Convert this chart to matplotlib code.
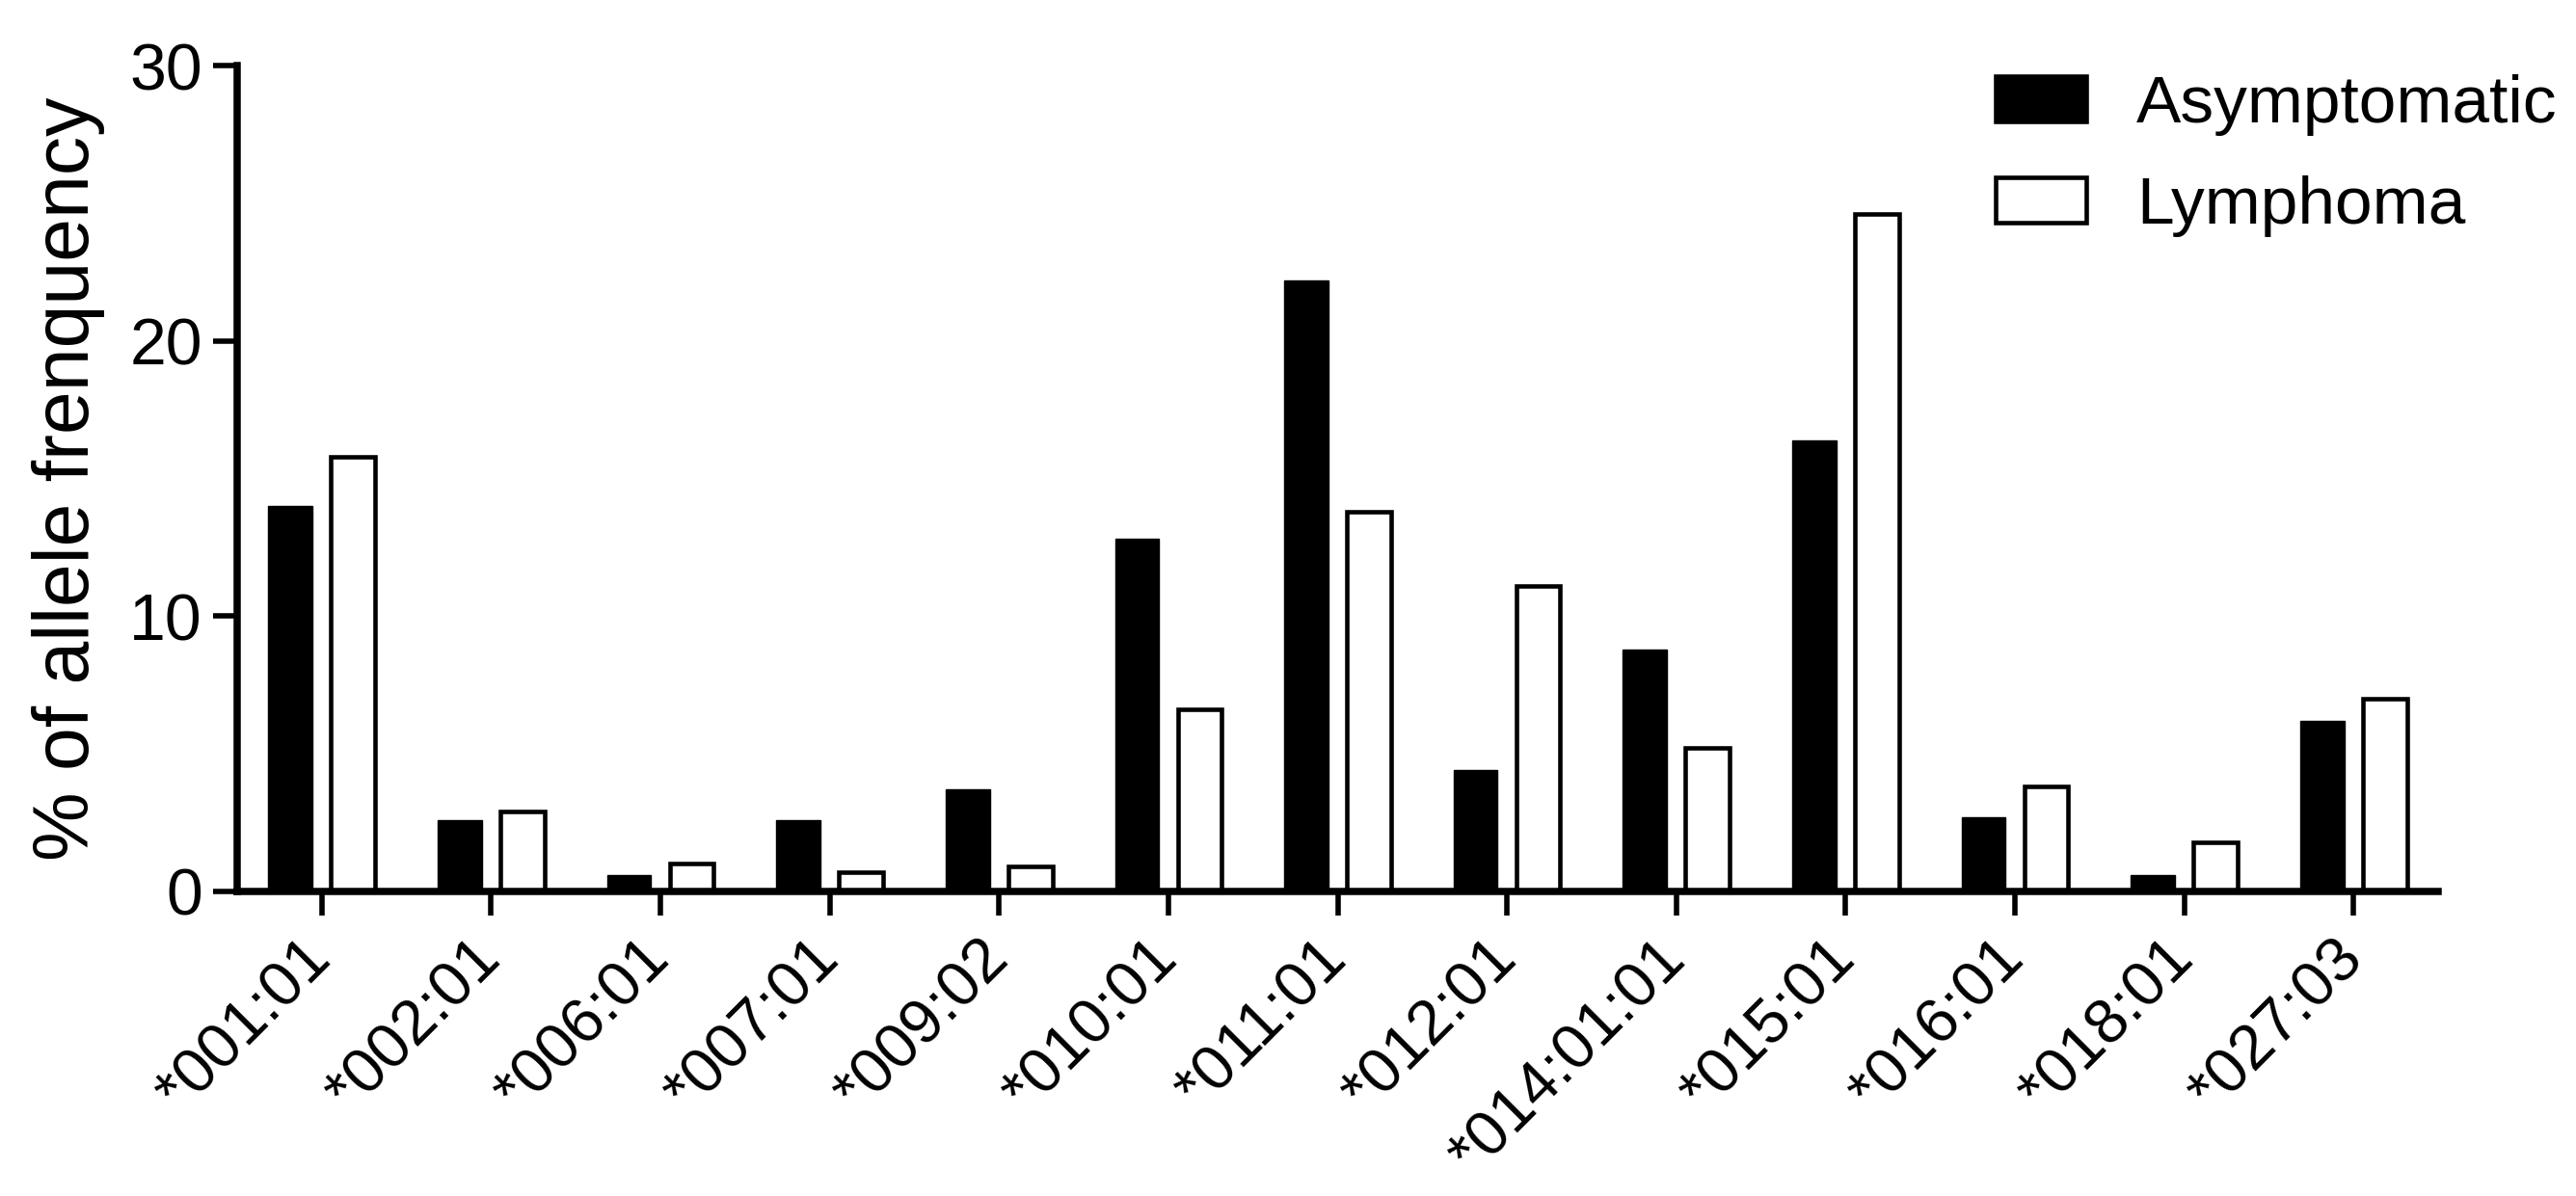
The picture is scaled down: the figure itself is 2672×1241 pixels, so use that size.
import matplotlib
matplotlib.use("Agg")
import matplotlib.pyplot as plt
import numpy as np

plt.rcParams['font.family'] = ['Liberation Sans', 'DejaVu Sans']

categories = ["*001:01", "*002:01", "*006:01", "*007:01", "*009:02", "*010:01",
              "*011:01", "*012:01", "*014:01:01", "*015:01", "*016:01", "*018:01", "*027:03"]
asymptomatic = [14.0, 2.6, 0.6, 2.6, 3.7, 12.8, 22.2, 4.4, 8.8, 16.4, 2.7, 0.6, 6.2]
lymphoma = [15.8, 2.9, 1.0, 0.7, 0.9, 6.6, 13.8, 11.1, 5.2, 24.6, 3.8, 1.8, 7.0]
yticks = [0, 10, 20, 30]

W, H = 2672, 1241
fig = plt.figure(figsize=(W / 100, H / 100), dpi=100)
ax = fig.add_axes([246 / W, 1 - 925 / H, (2529 - 246) / W, (925 - 68) / H])

x = np.arange(len(categories))
bw = 0.26
off = 0.185
ax.bar(x - off, asymptomatic, bw, color='black', edgecolor='black', linewidth=1.0,
       label='Asymptomatic', zorder=2)
ax.bar(x + off, lymphoma, bw, color='white', edgecolor='black', linewidth=3.3,
       label='Lymphoma', zorder=2)

ax.set_xlim(-0.5, 12.5)
ax.set_ylim(0, 30)
ax.set_yticks(yticks)
ax.set_yticklabels([str(v) for v in yticks], fontsize=49)
ax.set_xticks(x)
ax.set_xticklabels(categories, fontsize=47, rotation=45, ha='right',
                   rotation_mode='anchor', va='center')

for s in ['top', 'right']:
    ax.spines[s].set_visible(False)
for s in ['left', 'bottom']:
    ax.spines[s].set_linewidth(5.4)
    ax.spines[s].set_zorder(3)
ax.tick_params(axis='both', direction='out', length=18, width=4.0, color='black')
ax.tick_params(axis='x', pad=26)
ax.tick_params(axis='y', pad=8)

ax.set_ylabel('% of allele frenquency', fontsize=58, labelpad=18)

leg = ax.legend(loc='upper left', bbox_to_anchor=(2070 / W, 1 - 77 / H),
                bbox_transform=fig.transFigure, frameon=False, fontsize=50,
                handlelength=1.35, handleheight=0.65, handletextpad=0.75,
                labelspacing=0.59, borderpad=0, borderaxespad=0)
for p in leg.get_patches():
    p.set_linewidth(3.3)

fig.savefig('out.png', dpi=100)
